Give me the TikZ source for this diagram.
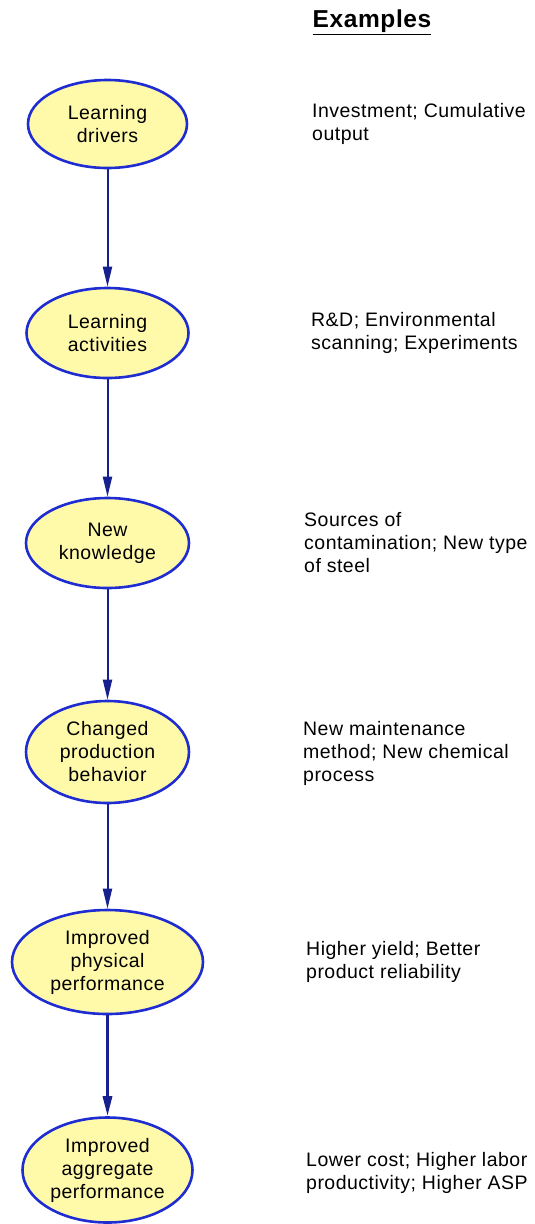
\documentclass[tikz,border=0pt]{standalone}
\usepackage{fontspec}
\setmainfont{Liberation Sans}[LetterSpace=2.5]
\usetikzlibrary{arrows.meta,shapes.geometric}
\definecolor{ovalfill}{RGB}{255,250,170}
\definecolor{ovaldraw}{RGB}{30,44,210}
\definecolor{flowcol}{RGB}{22,32,142}
\tikzset{>={Triangle[width=9pt,length=20pt]}}
\tikzset{
  stage/.style={ellipse, draw=ovaldraw, fill=ovalfill, line width=2.6pt,
    inner sep=0pt, align=center, font=\fontsize{19.5}{23}\selectfont},
  example/.style={anchor=west, inner sep=0pt, align=left,
    font=\fontsize{19.5}{23}\selectfont},
  flow/.style={->, draw=flowcol, fill=flowcol, line width=2pt}
}

\begin{document}
\begin{tikzpicture}[x=1pt, y=-1pt]

  \useasboundingbox (0,0) rectangle (535,1224);

  %% chain of learning stages
  \node[stage, minimum width=159pt, minimum height=88pt]  (drivers)    at (107.5, 124)  {Learning\\drivers};
  \node[stage, minimum width=162pt, minimum height=90pt]  (activities) at (107.5, 333)  {Learning\\activities};
  \node[stage, minimum width=163pt, minimum height=90pt]  (knowledge)  at (107.5, 543)  {New\\knowledge};
  \node[stage, minimum width=163pt, minimum height=102pt] (behavior)   at (107.5, 752)  {Changed\\production\\behavior};
  \node[stage, minimum width=191pt, minimum height=104pt] (physical)   at (107.5, 962)  {Improved\\physical\\performance};
  \node[stage, minimum width=170pt, minimum height=105pt] (aggregate)  at (107.5, 1170) {Improved\\aggregate\\performance};

  \draw[flow] (drivers) -- (activities);
  \draw[flow] (activities) -- (knowledge);
  \draw[flow] (knowledge) -- (behavior);
  \draw[flow] (behavior) -- (physical);
  \draw[flow, line width=3pt] (physical) -- (aggregate); % thicker one

  %% examples column
  \node[font=\fontsize{24.5}{28}\selectfont\bfseries] (title) at (372, 22) {\underline{Examples}};

  \node[example] (ex1) at (312, 124) {Investment; Cumulative\\output};
  \node[example] (ex2) at (311, 333) {R\&D; Environmental\\scanning; Experiments};
  \node[example] (ex3) at (304, 543) {Sources of\\contamination; New type\\of steel};
  \node[example] (ex4) at (303, 753) {New maintenance\\method; New chemical\\process};
  \node[example] (ex5) at (306, 962) {Higher yield; Better\\product reliability};
  \node[example] (ex6) at (306, 1173) {Lower cost; Higher labor\\productivity; Higher ASP};

\end{tikzpicture}
\end{document}
